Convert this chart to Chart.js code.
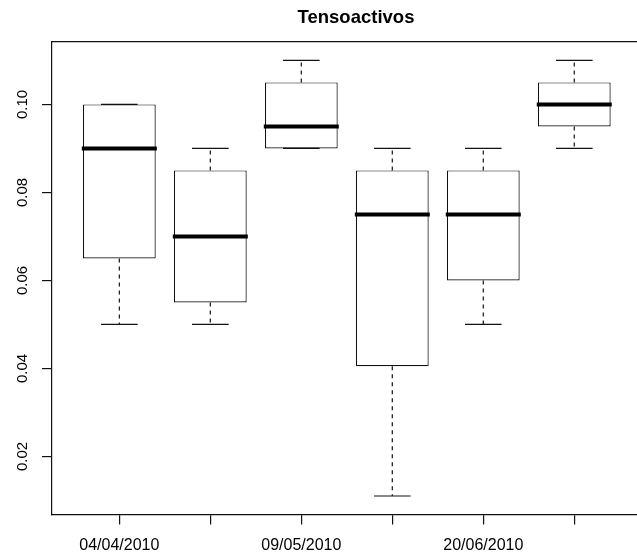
<!DOCTYPE html>
<html><head><meta charset="utf-8">
<script src="https://cdn.jsdelivr.net/npm/chart.js@4"></script>
<style>html,body{margin:0;padding:0;overflow:hidden;background:#fff}</style>
</head><body>
<canvas id="c" width="712" height="556"></canvas>
<script>
const chartTitle = 'Tensoactivos';
const positions = [1, 2, 3, 4, 5, 6];
const xTickLabels = ['04/04/2010', '', '09/05/2010', '', '20/06/2010', ''];
const whiskerLow  = [0.050, 0.050, 0.090, 0.011, 0.050, 0.090];
const q1          = [0.065, 0.055, 0.090, 0.0405, 0.060, 0.095];
const median      = [0.090, 0.070, 0.095, 0.075, 0.075, 0.100];
const q3          = [0.100, 0.085, 0.105, 0.085, 0.085, 0.105];
const whiskerHigh = [0.100, 0.090, 0.110, 0.090, 0.090, 0.110];
const yTicks = [0.02, 0.04, 0.06, 0.08, 0.10];
const yTickLabels = ['0.02', '0.04', '0.06', '0.08', '0.10'];

const FONT = '"Liberation Sans", Arial, Helvetica, sans-serif';

const boxData = positions.map((p, i) => ({ x: p, y: [q1[i], q3[i]] }));
const medianData = positions.map((p, i) => ({ x: p, y: median[i] }));
const upperWhisker = positions.flatMap((p, i) => [{ x: p, y: q3[i] }, { x: p, y: whiskerHigh[i] }, { x: p, y: null }]);
const lowerWhisker = positions.flatMap((p, i) => [{ x: p, y: q1[i] }, { x: p, y: whiskerLow[i] }, { x: p, y: null }]);
const upperCaps = positions.map((p, i) => ({ x: p, y: whiskerHigh[i] }));
const lowerCaps = positions.map((p, i) => ({ x: p, y: whiskerLow[i] }));

const whiskerStyle = {
  type: 'line', borderColor: '#111', borderWidth: 1.2, borderDash: [4, 4],
  pointRadius: 0, spanGaps: false, tension: 0, fill: false, order: 4
};
const capStyle = {
  type: 'scatter', pointStyle: 'line', pointRadius: 18.3, pointBorderWidth: 1.2,
  pointBorderColor: '#111', borderColor: '#111', order: 1
};

new Chart(document.getElementById('c'), {
  type: 'bar',
  data: {
    datasets: [
      { type: 'scatter', data: medianData, pointStyle: 'line', pointRadius: 37.5,
        pointBorderWidth: 4, pointBorderColor: '#000', borderColor: '#000', order: 0 },
      Object.assign({ data: upperCaps }, capStyle),
      Object.assign({ data: lowerCaps }, capStyle),
      { type: 'bar', data: boxData, backgroundColor: '#fff', borderColor: '#111',
        borderWidth: 1.2, borderSkipped: false, categoryPercentage: 1, barPercentage: 0.8, order: 2 },
      Object.assign({ data: upperWhisker }, whiskerStyle),
      Object.assign({ data: lowerWhisker }, whiskerStyle)
    ]
  },
  options: {
    responsive: false,
    animation: false,
    events: [],
    layout: { padding: 0 },
    plugins: {
      legend: { display: false },
      tooltip: { enabled: false },
      title: {
        display: true, text: chartTitle, color: '#000',
        font: { family: FONT, size: 18.5, weight: 'bold' },
        padding: { top: 5, bottom: 12 }
      }
    },
    scales: {
      x: {
        type: 'linear', position: 'bottom', min: 0.26, max: 6.74, offset: false,
        afterBuildTicks: s => { s.ticks = positions.map(v => ({ value: v })); },
        afterFit: s => { s.height = 38; },
        grid: { display: true, offset: false, drawOnChartArea: false, drawTicks: true, tickLength: 10, color: '#111', lineWidth: 1.2 },
        border: { display: true, color: '#111', width: 1.2 },
        ticks: {
          autoSkip: false, maxRotation: 0, minRotation: 0, padding: 11, color: '#000',
          font: { family: FONT, size: 16 },
          callback: (v, i) => xTickLabels[i]
        }
      },
      x2: {
        type: 'linear', position: 'top', display: true, min: 0.26, max: 6.74, offset: false,
        afterFit: s => { s.height = 0; },
        grid: { display: false, drawTicks: false },
        border: { display: true, color: '#111', width: 1.2 },
        ticks: { display: false }
      },
      y: {
        type: 'linear', position: 'left', min: 0.0068, max: 0.1143,
        afterBuildTicks: s => { s.ticks = yTicks.map(v => ({ value: v })); },
        afterFit: s => { s.width = 52; },
        grid: { display: true, drawOnChartArea: false, drawTicks: true, tickLength: 10, color: '#111', lineWidth: 1.2 },
        border: { display: true, color: '#111', width: 1.2 },
        ticks: {
          minRotation: 90, maxRotation: 90, crossAlign: 'center', padding: 5, color: '#000',
          font: { family: FONT, size: 15 },
          callback: (v, i) => yTickLabels[i]
        }
      },
      y2: {
        type: 'linear', position: 'right', display: true, min: 0.0068, max: 0.1143,
        afterFit: s => { s.width = 70.4; },
        grid: { display: false, drawTicks: false },
        border: { display: true, color: '#111', width: 1.2 },
        ticks: { display: false }
      }
    }
  }
});
</script>
</body></html>
